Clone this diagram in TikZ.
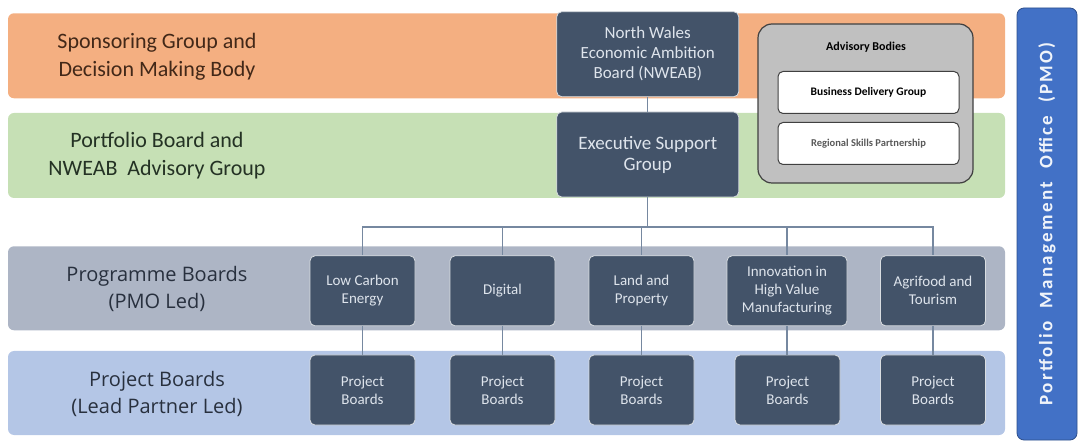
\documentclass[tikz,border=0pt]{standalone}
\usepackage{fontspec}
\setmainfont{Carlito}
\newfontfamily\osans{Open Sans}
\definecolor{orangeband}{RGB}{244,175,129}
\definecolor{greenband}{RGB}{198,224,181}
\definecolor{greyband}{RGB}{173,181,197}
\definecolor{blueband}{RGB}{180,198,230}
\definecolor{slate}{RGB}{67,83,105}
\definecolor{boxtxt}{RGB}{222,228,236}
\definecolor{pmoblue}{RGB}{66,113,198}
\definecolor{lnc}{RGB}{118,136,160}
\definecolor{advgrey}{RGB}{192,192,192}
\definecolor{ortxt}{RGB}{66,40,24}
\definecolor{grtxt}{RGB}{36,50,36}
\definecolor{labtxt}{RGB}{40,48,62}
\tikzstyle{band} = [rectangle, rounded corners=6pt, minimum width=997pt, minimum height=85pt, inner sep=0pt]
\tikzstyle{bd} = [draw=white!80!slate, line width=0.8pt, fill=slate, text=boxtxt, rectangle, rounded corners=5pt, minimum width=105pt, minimum height=70pt, inner sep=0pt, align=center, font=\fontsize{15}{18}\selectfont]
\tikzstyle{top} = [bd, minimum width=182pt, minimum height=85pt]
\tikzstyle{lbl} = [align=center, font=\fontsize{22}{28}\selectfont]
\tikzstyle{lblo} = [align=center, text=labtxt, font=\osans\fontsize{20}{27}\selectfont]
\tikzstyle{sub} = [draw=black!75, line width=1pt, fill=white, rectangle, rounded corners=5pt, minimum width=181pt, minimum height=42pt, inner sep=0pt]
\tikzstyle{ln} = [draw=lnc, line width=1.1pt]
\newcommand{\advtitle}[1]{\bfseries\fontsize{12}{14}\selectfont{#1}}

\begin{document}
\begin{tikzpicture}[x=1pt,y=-1pt]
	
	\useasboundingbox (0,0) rectangle (1079,443);
	\node [band, fill=orangeband] (sponsor) at (506.5,55.8) {};
	\node [band, fill=greenband] (portfolio) at (506.5,155.5) {};
	\node [band, fill=greyband, minimum height=84pt] (programme) at (506.5,288.3) {};
	\node [band, fill=blueband, minimum height=84pt] (project) at (506.5,393) {};
	\node [lbl, text=ortxt] (sponsortxt) at (157,57) {Sponsoring Group and\\Decision Making Body};
	\node [lbl, text=grtxt] (portfoliotxt) at (157,156) {Portfolio Board and\\NWEAB\ \ Advisory Group};
	\node [lblo] (programmetxt) at (157,289) {Programme Boards\\(PMO Led)};
	\node [lblo] (projecttxt) at (157,394) {Project Boards\\(Lead Partner Led)};
	\node [top, font=\fontsize{17}{20}\selectfont] (nweab) at (647.75,54.2) {North Wales\\Economic Ambition\\Board (NWEAB)};
	\node [top, font=\fontsize{19}{21}\selectfont] (esg) at (647.75,154.5) {Executive Support\\Group};
	\node [draw=black!75, line width=1.2pt, fill=advgrey, rectangle, rounded corners=14pt, minimum width=215pt, minimum height=159pt] (adv) at (865.5,103.5) {};
	\node (advtxt) at (866,47) {\advtitle{Advisory Bodies}};
	\node [sub, font=\bfseries\fontsize{11.5}{14}\selectfont] (bdg) at (868.5,92.5) {Business Delivery Group};
	\node [sub, text=black!65, font=\bfseries\fontsize{10.5}{13}\selectfont] (rsp) at (868.5,143.5) {Regional Skills Partnership};
	\node [draw=pmoblue!70!black, line width=0.8pt, fill=pmoblue, rectangle, rounded corners=7pt, minimum width=60pt, minimum height=432pt, inner sep=0pt] (pmo) at (1047,224) {};
	\node [rotate=90, text=white!92!pmoblue, font=\bfseries\fontsize{19}{22}\selectfont\addfontfeature{LetterSpace=12}] (pmotxt) at (1047,224) {Portfolio\ \ Management\ \ Office\ \ (PMO)};
	\node [bd] (p1) at (362.5,290.8) {Low Carbon\\Energy};
	\node [bd] (p2) at (502.5,290.8) {Digital};
	\node [bd] (p3) at (641.5,290.8) {Land and\\Property};
	\node [bd, minimum width=120pt] (p4) at (787,290.8) {Innovation in\\High Value\\Manufacturing};
	\node [bd] (p5) at (933,290.8) {Agrifood and\\Tourism};
	\node [bd] (b1) at (362.5,390) {Project\\Boards};
	\node [bd] (b2) at (502.5,390) {Project\\Boards};
	\node [bd] (b3) at (641.5,390) {Project\\Boards};
	\node [bd] (b4) at (787.5,390) {Project\\Boards};
	\node [bd] (b5) at (933,390) {Project\\Boards};
	\coordinate (bus) at (647.75,227);
	\draw [ln] (nweab) -- (esg);
	\draw [ln] (esg) -- (bus);
	\draw [ln] (p1.north) |- (bus) -| (p5.north);
	\draw [ln] (bus) -| (p2.north);
	\draw [ln] (bus) -| (p3.north);
	\draw [ln] (bus) -| (p4.north);
	\draw [ln] (p1) -- (b1);
	\draw [ln] (p2) -- (b2);
	\draw [ln] (p3) -- (b3);
	\draw [ln] (p4.south) -- (p4.south |- b4.north);
	\draw [ln] (p5) -- (b5);
\end{tikzpicture}
\end{document}
